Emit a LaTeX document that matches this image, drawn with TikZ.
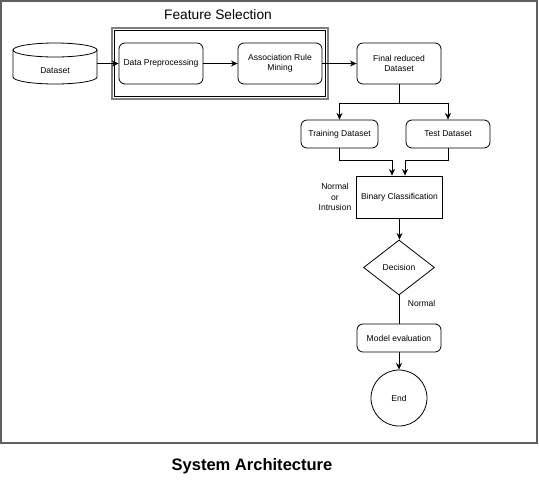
\documentclass[tikz,border=0pt]{standalone}
\usepackage{fontspec}
\setmainfont{Liberation Sans}
\usetikzlibrary{shapes.geometric,arrows.meta}

\tikzset{
  box/.style={draw,semithick,rounded corners=4.5pt,minimum width=63pt,minimum height=30.75pt,align=center,inner sep=1pt},
  smallbox/.style={box,minimum height=21pt},
  conn/.style={->,>={Stealth[length=5pt,width=4.5pt]},semithick},
}

\begin{document}
\begin{tikzpicture}[x=0.75pt,y=-0.75pt,font=\fontsize{6.4}{7.9}\selectfont]
                \useasboundingbox (0,0) rectangle (539,480);
                \draw[line width=1.5pt,gray!75!black] (1,1) rectangle (537,443); %外枠

                % Feature Selection
                \node (fstitle) at (218,15) {\fontsize{10.3}{12}\selectfont Feature Selection};
                \draw[line width=1.8pt,gray] (112,28) rectangle (328,99);
                \draw[thin] (114.5,30.5) rectangle (325.5,96.5);

                \node (dataset) [minimum width=63pt,minimum height=30.75pt] at (55,63.5) {}; %Dataset
                \draw[semithick] (55,50) ellipse[x radius=42,y radius=7];
                \draw[semithick] (13,50) -- (13,77) arc[start angle=180,end angle=0,x radius=42,y radius=7] -- (97,50);
                \node at (55,70.5) {Dataset};

                \node (prep) [box] at (161,63.5) {Data Preprocessing};
                \node (assoc) [box] at (280,63.5) {Association Rule\\Mining};
                \node (final) [box] at (399,63.5) {Final reduced\\Dataset};
                \node (training) [smallbox,minimum width=57.75pt] at (339.5,134) {Training Dataset};
                \node (test) [smallbox] at (448,134) {Test Dataset};
                \node (binary) [draw,semithick,minimum width=63.75pt,minimum height=31.5pt] at (399.5,197) {Binary Classification};
                \node (nori) [align=center] at (335,197) {Normal\\or\\Intrusion};
                \node (decision) [diamond,draw,semithick,minimum width=53.25pt,minimum height=41.25pt,inner sep=0pt] at (399,267.5) {Decision};
                \node (model) [smallbox] at (399,338) {Model evaluation};
                \node (end) [circle,draw,semithick,minimum size=42pt] at (399,398) {End};

                \coordinate (split) at (399,103); %分岐
                \coordinate (midL) at (392,160);
                \coordinate (midR) at (405,160);

                \draw[conn] (dataset.east) -- (prep.west);
                \draw[conn] (prep) -- (assoc);
                \draw[conn] (assoc) -- (final);
                \draw[semithick] (final) -- (split);
                \draw[conn] (split) -| (training.north);
                \draw[conn] (split) -| (test.north);
                \draw[conn] (training.south) |- (midL) -- (midL |- binary.north);
                \draw[conn] (test.south) |- (midR) -- (midR |- binary.north);
                \draw[conn] (binary.south) -- (binary.south |- decision.north);
                \draw[semithick] (decision.south) -- (model.north) node[pos=0.28,right,xshift=3pt] {Normal};
                \draw[conn] (model) -- (end);

                \node (sysarch) at (252,466) {\fontsize{12.4}{14}\selectfont\bfseries System Architecture};
\end{tikzpicture}
\end{document}
